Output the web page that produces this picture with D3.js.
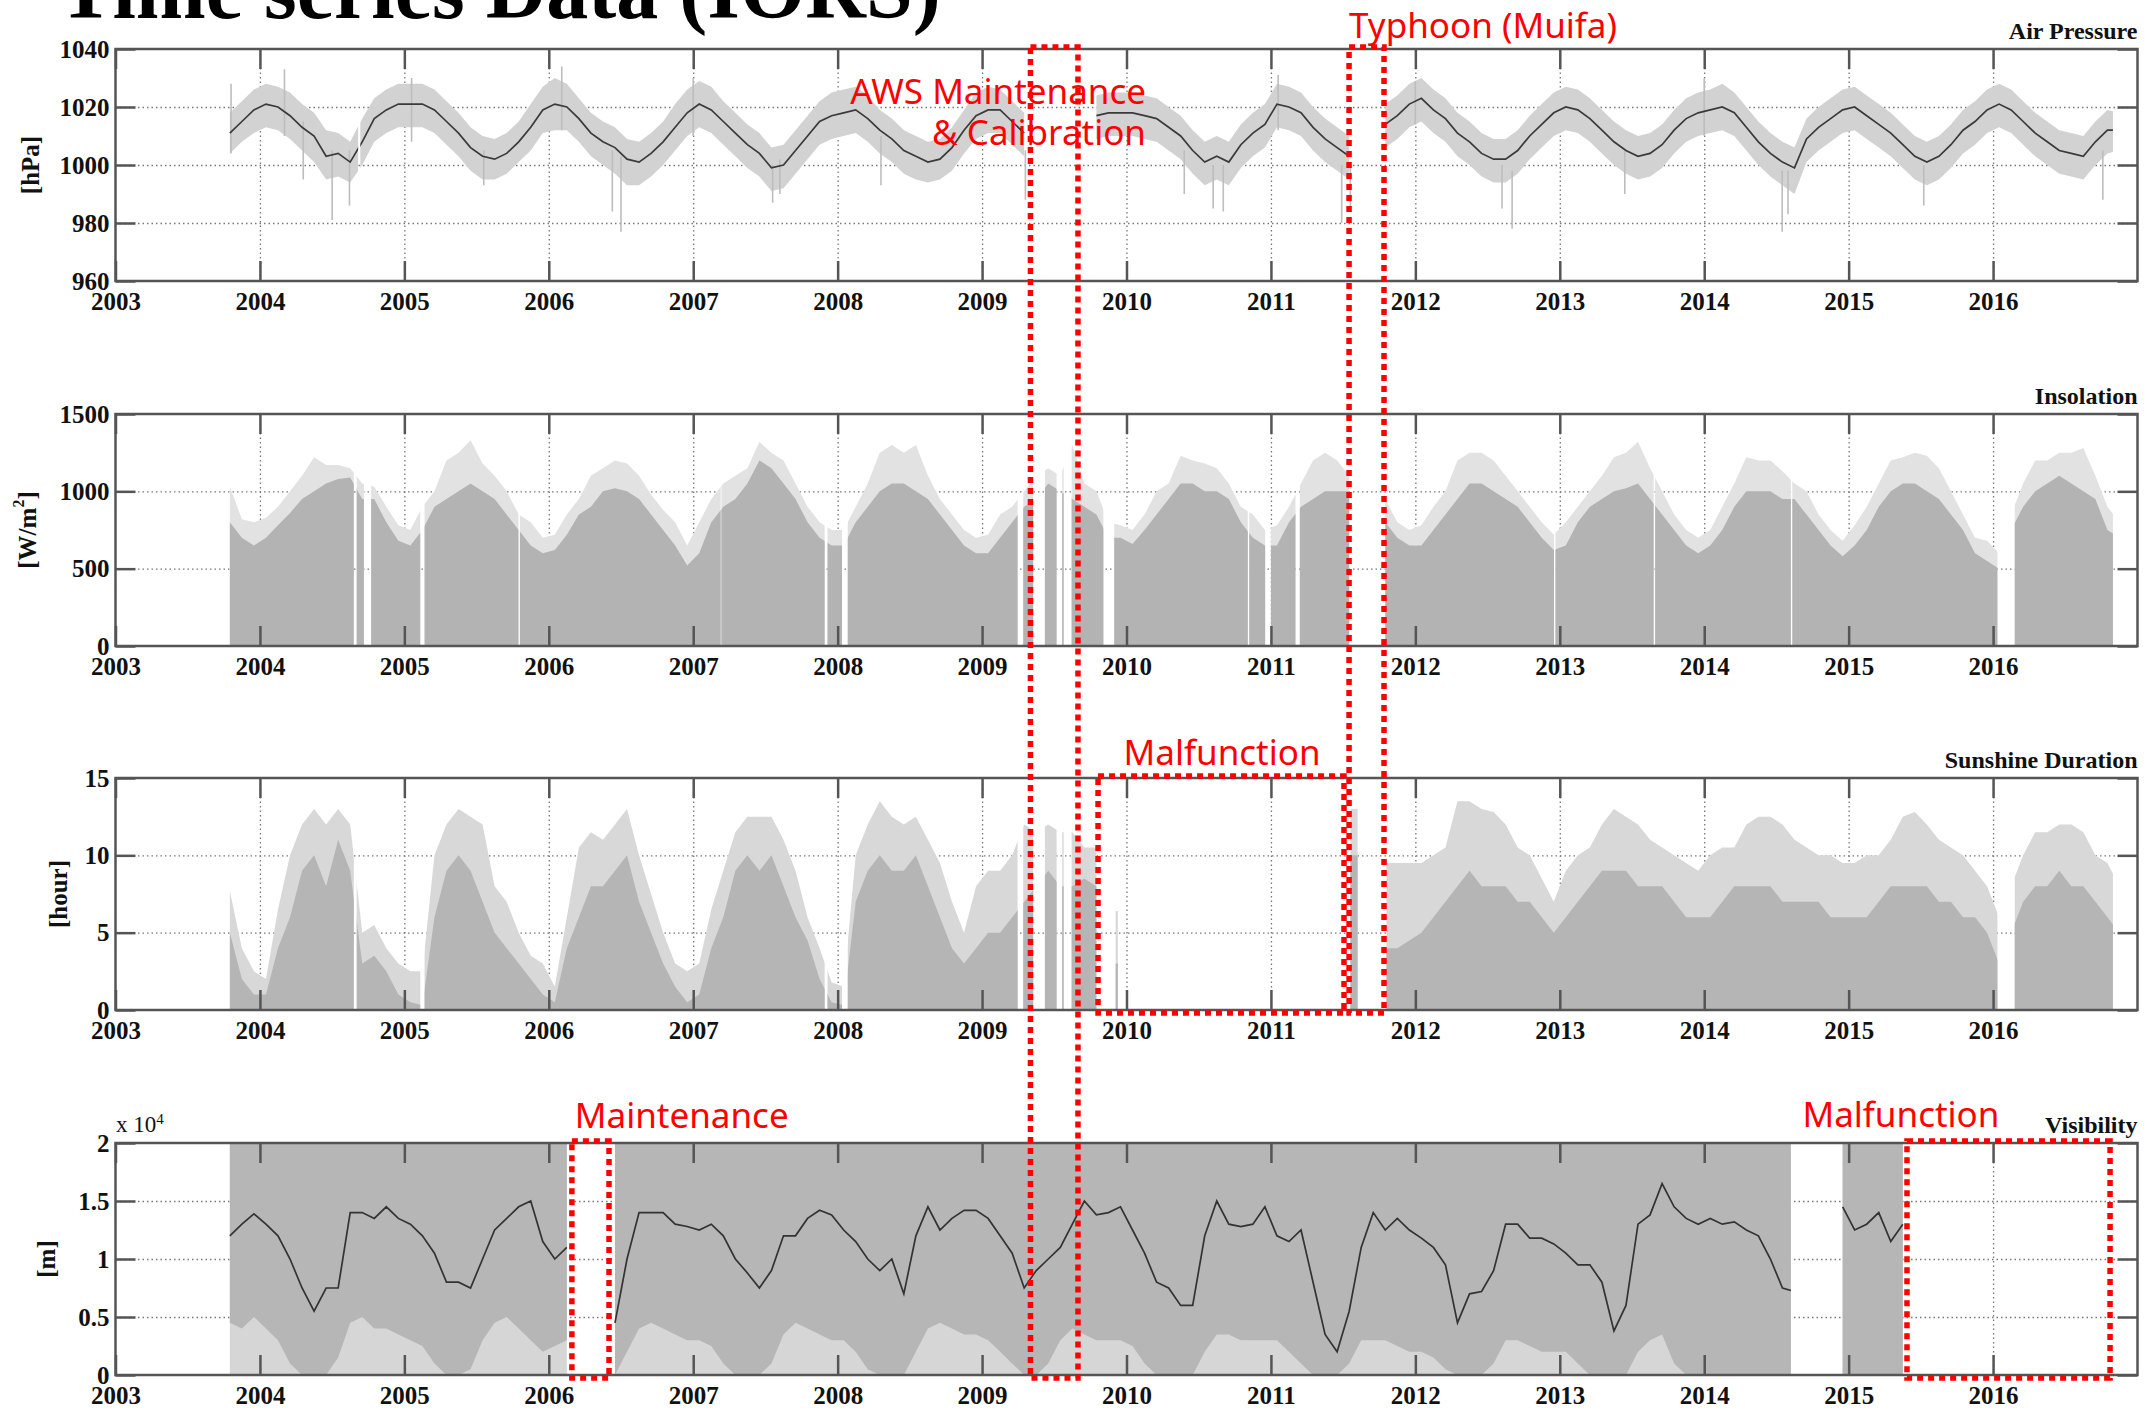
<!DOCTYPE html>
<html>
<head>
<meta charset="utf-8">
<script src="https://cdn.jsdelivr.net/npm/d3@7"></script>
<style>
  body { margin: 0; background: #fff; }
  svg { display: block; }
</style>
</head>
<body>
<svg id="chart" width="2154" height="1410"></svg>
<script>
// monthly values, Oct 2003 .. Nov 2016 (one row per year)
const years = d3.range(2003, 2017);

// Air pressure [hPa]: running mean, and the spread of the daily values
const pressureMean = [
  1011, 1015, 1019,
  1021, 1020, 1017, 1013, 1010, 1003, 1004, 1001, 1008, 1016, 1019, 1021,
  1021, 1021, 1019, 1015, 1011, 1006, 1003, 1002, 1004, 1008, 1013, 1019,
  1021, 1020, 1016, 1011, 1008, 1006, 1002, 1001, 1004, 1008, 1013, 1018,
  1021, 1019, 1015, 1011, 1007, 1004, 999, 1000, 1005, 1010, 1015, 1017,
  1018, 1019, 1016, 1012, 1009, 1005, 1003, 1001, 1002, 1006, 1012, 1017,
  1019, 1019, 1015, 1011, null, null, null, null, null, 1017, 1018, 1018,
  1018, 1017, 1016, 1013, 1010, 1005, 1001, 1003, 1001, 1007, 1011, 1014,
  1021, 1020, 1018, 1013, 1009, 1006, 1003, null, null, 1014, 1017, 1021,
  1023, 1019, 1016, 1011, 1008, 1004, 1002, 1002, 1005, 1010, 1014, 1018,
  1020, 1019, 1016, 1012, 1008, 1005, 1003, 1004, 1007, 1012, 1016, 1018,
  1019, 1020, 1018, 1013, 1008, 1004, 1001, 999, 1009, 1013, 1016, 1019,
  1020, 1017, 1014, 1011, 1007, 1003, 1001, 1003, 1007, 1012, 1015, 1019,
  1021, 1019, 1015, 1011, 1008, 1005, 1004, 1003, 1008, 1012, 1012
];
const pressureHi = [
  1018, 1022, 1026,
  1028, 1027, 1025, 1021, 1018, 1012, 1011, 1008, 1016, 1023, 1026, 1028,
  1028, 1028, 1026, 1022, 1018, 1013, 1010, 1009, 1011, 1015, 1021, 1027,
  1030, 1028, 1023, 1018, 1015, 1013, 1009, 1008, 1011, 1015, 1021, 1026,
  1029, 1027, 1022, 1018, 1014, 1011, 1006, 1007, 1012, 1017, 1022, 1025,
  1026, 1027, 1024, 1019, 1016, 1012, 1010, 1008, 1009, 1013, 1019, 1025,
  1027, 1026, 1022, 1018, null, null, null, null, null, 1024, 1025, 1025,
  1025, 1024, 1023, 1020, 1017, 1012, 1008, 1010, 1008, 1014, 1018, 1021,
  1028, 1027, 1025, 1020, 1016, 1013, 1010, null, null, 1021, 1024, 1028,
  1030, 1026, 1023, 1018, 1015, 1011, 1009, 1009, 1012, 1017, 1021, 1025,
  1027, 1026, 1023, 1019, 1015, 1012, 1010, 1011, 1014, 1019, 1023, 1025,
  1026, 1028, 1025, 1020, 1015, 1011, 1008, 1006, 1016, 1020, 1023, 1026,
  1027, 1024, 1021, 1018, 1014, 1010, 1008, 1010, 1014, 1019, 1022, 1026,
  1028, 1026, 1022, 1018, 1015, 1012, 1011, 1010, 1015, 1019, 1018
];
const pressureLo = [
  1004, 1008, 1011,
  1013, 1012, 1009, 1005, 1001, 995, 996, 994, 1000, 1008, 1011, 1013,
  1013, 1013, 1011, 1007, 1003, 998, 995, 995, 997, 1001, 1005, 1011,
  1012, 1012, 1008, 1003, 1000, 997, 993, 993, 996, 1000, 1005, 1010,
  1013, 1011, 1007, 1003, 999, 996, 991, 992, 997, 1002, 1007, 1009,
  1010, 1011, 1008, 1004, 1001, 997, 995, 994, 995, 998, 1004, 1009,
  1011, 1011, 1007, 1003, null, null, null, null, null, 1009, 1010, 1010,
  1010, 1009, 1008, 1005, 1002, 997, 993, 995, 993, 999, 1003, 1006,
  1013, 1012, 1010, 1005, 1001, 998, 995, null, null, 1006, 1009, 1013,
  1015, 1011, 1008, 1003, 1000, 996, 994, 994, 997, 1002, 1006, 1010,
  1012, 1011, 1008, 1004, 1000, 997, 995, 996, 999, 1004, 1008, 1010,
  1011, 1012, 1010, 1005, 1000, 996, 993, 990, 1001, 1005, 1008, 1011,
  1012, 1009, 1006, 1003, 999, 995, 993, 995, 999, 1004, 1007, 1011,
  1013, 1011, 1007, 1003, 1000, 997, 996, 995, 1000, 1004, 1005
];
// single days that stick out of the band: [year, low, high]
const pressureSpikes = [
  [2003.80, 1004, 1028], [2004.17, 1010, 1033], [2004.30, 995, 1015], [2004.50, 981, 1005],
  [2004.62, 986, 1005], [2005.05, 1008, 1030], [2005.55, 993, 1005], [2006.09, 1012, 1034],
  [2006.44, 984, 1005], [2006.50, 977, 1003], [2007.00, 1010, 1030], [2007.55, 987, 1000],
  [2007.60, 990, 1002], [2008.30, 993, 1010], [2009.30, 988, 1005], [2009.45, 996, 1006],
  [2009.55, 999, 1005], [2009.62, 1000, 1008], [2010.40, 990, 1005], [2010.60, 985, 1000],
  [2010.67, 984, 1000], [2011.05, 1012, 1031], [2011.49, 980, 1000], [2011.55, 985, 1000],
  [2012.00, 1014, 1029], [2012.60, 985, 1000], [2012.67, 978, 998], [2013.45, 990, 1005],
  [2014.00, 1010, 1030], [2014.54, 977, 998], [2014.58, 983, 998], [2015.52, 986, 1000],
  [2016.76, 988, 1005]
];
const pressureGaps = [[2004.68, 2004.695], [2009.34, 2009.75], [2011.57, 2011.775]];

// Insolation [W/m2]: level of the dense bars, and the highest days
const insolTop = [
  800, 700, 650,
  700, 780, 860, 950, 1000, 1050, 1080, 1090, 950, 950, 800, 680,
  650, 750, 900, 950, 1000, 1050, 1000, 950, 850, 750, 650, 600,
  620, 720, 850, 900, 1000, 1020, 1000, 950, 850, 750, 650, 520,
  600, 800, 900, 950, 1050, 1200, 1150, 1050, 950, 800, 700, 650,
  650, 800, 900, 1000, 1050, 1050, 1000, 950, 850, 750, 650, 600,
  600, 700, 800, 900, 950, 1050, 1000, 950, 900, 850, 700, 700,
  660, 750, 850, 950, 1050, 1050, 1000, 1000, 950, 800, 700, 650,
  650, 800, 900, 950, 1000, 1000, 1000, null, null, 800, 700, 650,
  650, 750, 850, 950, 1050, 1050, 1000, 950, 900, 800, 700, 620,
  650, 800, 900, 950, 1000, 1020, 1050, 950, 850, 750, 650, 600,
  650, 750, 900, 1000, 1000, 1000, 950, 950, 850, 750, 650, 580,
  650, 750, 900, 1000, 1050, 1050, 1000, 950, 850, 750, 600, 550,
  500, 750, 900, 1000, 1050, 1100, 1050, 1000, 950, 750, 700
];
const insolMax = [
  1030, 820, 800,
  830, 900, 1000, 1100, 1220, 1170, 1170, 1150, 1050, 1030, 900, 780,
  750, 900, 1000, 1200, 1250, 1330, 1180, 1100, 1000, 850, 800, 700,
  720, 850, 950, 1100, 1150, 1200, 1180, 1100, 980, 880, 800, 650,
  800, 950, 1050, 1100, 1150, 1320, 1250, 1200, 1050, 900, 800, 750,
  750, 900, 1050, 1250, 1300, 1250, 1300, 1100, 950, 850, 750, 700,
  720, 850, 900, 1000, 1100, 1150, 1100, 1300, 1050, 1000, 800, 780,
  750, 850, 1000, 1050, 1230, 1200, 1180, 1150, 1050, 900, 850, 750,
  780, 900, 1050, 1200, 1250, 1200, 1100, null, null, 950, 800, 750,
  780, 900, 1000, 1200, 1250, 1250, 1200, 1100, 1000, 900, 800, 720,
  800, 900, 1000, 1100, 1220, 1250, 1320, 1150, 1000, 850, 750, 700,
  750, 900, 1050, 1220, 1200, 1200, 1130, 1050, 1000, 850, 750, 680,
  780, 900, 1050, 1200, 1220, 1250, 1230, 1150, 1000, 850, 700, 680,
  600, 850, 1050, 1200, 1200, 1250, 1250, 1280, 1100, 900, 800
];
const insolGaps = [
  [2004.65, 2004.67], [2004.72, 2004.77], [2005.11, 2005.14], [2005.79, 2005.80],
  [2007.19, 2007.195], [2007.91, 2007.93], [2008.03, 2008.07], [2009.246, 2009.285],
  [2009.354, 2009.435], [2009.516, 2009.555], [2009.565, 2009.62], [2009.84, 2009.915],
  [2010.84, 2010.85], [2010.96, 2011.0], [2011.17, 2011.20], [2011.58, 2011.76],
  [2012.96, 2012.97], [2013.65, 2013.66], [2014.60, 2014.61], [2016.03, 2016.15]
];

// Sunshine duration [hour]: dense level and highest days
const sunTop = [
  5, 2, 1,
  1, 4, 6, 9, 10, 8, 11, 9, 3, 3.5, 2.5, 1,
  0.5, 0.3, 6, 9, 10, 9, 7, 5, 4, 3, 2, 1,
  0.5, 4, 6, 8, 8, 9, 10, 7, 5, 3, 1.5, 0.5,
  1, 4, 6, 9, 10, 9, 10, 8, 6, 4.5, 2, 0.5,
  0.3, 7, 9, 10, 9, 9, 10, 8, 6, 4, 3, 4,
  5, 5, 6, 7, 8, 9, 8, 8, 8.5, 8, null, null,
  null, null, null, null, null, null, null, null, null, null, null, null,
  null, null, null, null, null, null, null, null, null, 4, 4, 4.5,
  5, 6, 7, 8, 9, 8, 8, 8, 7, 7, 6, 5,
  6, 7, 8, 9, 9, 9, 8, 8, 8, 7, 6, 6,
  6, 7, 8, 8, 8, 8, 7, 7, 7, 7, 6, 6,
  6, 6, 7, 8, 8, 8, 8, 7, 7, 6, 6, 5,
  3, 5, 7, 8, 8, 9, 8, 8, 7, 6, 5
];
const sunMax = [
  7.7, 4, 2.5,
  2, 6.5, 10, 12, 13, 12, 13, 12, 5, 5.5, 4, 3,
  2.5, 2.5, 10, 12, 13, 12.5, 12, 8, 7, 5, 3.5, 3,
  1.5, 6, 10.5, 11.5, 11, 12, 13, 10, 7.5, 5, 3, 2.5,
  3, 6.5, 9, 11.5, 12.5, 12.5, 12.5, 11, 9, 6, 4, 1.8,
  1.5, 10, 12, 13.5, 12.5, 12, 12.5, 11, 9.5, 7, 5, 8,
  9, 9, 10, 12, 11.5, 12, 11.5, 11.5, 10.5, 10.5, null, null,
  null, null, null, null, null, null, null, null, null, null, null, null,
  null, null, null, null, null, null, null, null, null, 9.5, 9.5, 9.5,
  9.5, 10, 10.5, 13.5, 13.5, 13, 12.8, 12, 10.5, 10, 8.5, 7,
  9, 10, 10.5, 12, 13, 12.5, 12, 11, 10.5, 10, 9.5, 9,
  10, 10.5, 10.5, 12, 12.5, 12.5, 12, 11, 10.5, 10, 10, 9.5,
  9.5, 10, 10, 11, 12.5, 12.8, 12, 11, 10.5, 10, 9, 8,
  6, 8, 10, 11.5, 11.5, 12, 12, 11.5, 10, 9.5, 8
];
// short stretches inside the malfunction period: [from, to, dense, max]
const sunExtra = [[2009.925, 2009.94, 3, 6.4], [2011.55, 2011.60, 10, 13]];
const sunGaps = [
  [2004.65, 2004.67], [2005.11, 2005.14], [2007.91, 2007.93], [2008.03, 2008.07],
  [2009.246, 2009.285], [2009.354, 2009.435], [2009.516, 2009.555], [2009.565, 2009.62],
  [2009.84, 2011.80], [2016.03, 2016.15]
];

// Visibility [x 10^4 m]: running mean, and the lower edge of the dense band
const visMean = [
  1.2, 1.3, 1.39,
  1.3, 1.2, 1.0, 0.75, 0.55, 0.75, 0.75, 1.4, 1.4, 1.35, 1.45, 1.35,
  1.3, 1.2, 1.05, 0.8, 0.8, 0.75, 1.0, 1.25, 1.35, 1.45, 1.5, 1.15,
  1.0, 1.1, null, null, null, 0.45, 1.0, 1.4, 1.4, 1.4, 1.3, 1.28,
  1.25, 1.3, 1.2, 1.0, 0.88, 0.75, 0.9, 1.2, 1.2, 1.35, 1.42, 1.38,
  1.25, 1.15, 1.0, 0.9, 1.0, 0.7, 1.2, 1.45, 1.25, 1.35, 1.42, 1.42,
  1.35, 1.2, 1.05, 0.75, 0.9, 1.0, 1.1, 1.3, 1.5, 1.38, 1.4, 1.45,
  1.25, 1.05, 0.8, 0.75, 0.6, 0.6, 1.2, 1.5, 1.3, 1.28, 1.3, 1.45,
  1.2, 1.15, 1.25, 0.8, 0.35, 0.2, 0.55, 1.1, 1.4, 1.25, 1.35, 1.25,
  1.18, 1.1, 0.95, 0.45, 0.7, 0.72, 0.9, 1.3, 1.3, 1.18, 1.18, 1.13,
  1.05, 0.95, 0.95, 0.8, 0.38, 0.6, 1.3, 1.38, 1.65, 1.45, 1.35, 1.3,
  1.35, 1.3, 1.32, 1.25, 1.2, 1.0, 0.75, 0.72, null, null, null, 1.45,
  1.25, 1.3, 1.4, 1.15, 1.3, null, null, null, null, null, null, null,
  null, null, null, null, null, null, null, null, null, null, null
];
const visLow = [
  0.45, 0.4, 0.5,
  0.4, 0.3, 0.1, 0, 0, 0, 0.15, 0.45, 0.5, 0.4, 0.4, 0.35,
  0.3, 0.25, 0.1, 0, 0, 0.05, 0.3, 0.45, 0.5, 0.4, 0.3, 0.2,
  0.25, 0.3, null, null, null, 0, 0.2, 0.4, 0.45, 0.4, 0.35, 0.3,
  0.3, 0.25, 0.1, 0, 0, 0, 0.1, 0.35, 0.45, 0.4, 0.35, 0.3,
  0.3, 0.2, 0.05, 0, 0, 0, 0.2, 0.4, 0.45, 0.4, 0.35, 0.35,
  0.3, 0.2, 0.1, 0, 0, 0.1, 0.3, 0.4, 0.35, 0.3, 0.3, 0.3,
  0.25, 0.1, 0, 0, 0, 0, 0.2, 0.35, 0.35, 0.3, 0.3, 0.3,
  0.3, 0.2, 0.1, 0, 0, 0, 0.1, 0.3, 0.3, 0.3, 0.25, 0.2,
  0.2, 0.15, 0.05, 0, 0, 0, 0.1, 0.3, 0.3, 0.25, 0.2, 0.2,
  0.2, 0.1, 0, 0, 0, 0, 0.2, 0.3, 0.35, 0.1, 0, 0,
  0, 0, 0, 0, 0, 0, 0, 0, null, null, null, 0,
  0, 0, 0, 0, 0, null, null, null, null, null, null, null,
  null, null, null, null, null, null, null, null, null, null, null
];
const visGaps = [[2006.16, 2006.43], [2014.60, 2014.91]];

// red annotations
const boxes = [
  { x0: 2009.335, x1: 2009.664, from: 0, to: 3 },
  { x0: 2011.541, x1: 2011.783, from: 0, to: 2 },
  { x0: 2009.803, x1: 2011.506, from: 2, to: 2 },
  { x0: 2006.16, x1: 2006.417, from: 3, to: 3 },
  { x0: 2015.404, x1: 2016.81, from: 3, to: 3 }
];
const notes = [
  { text: 'AWS Maintenance', x: 2010.135, y: 104, anchor: 'end' },
  { text: '& Calibration', x: 2010.135, y: 145, anchor: 'end' },
  { text: 'Typhoon (Muifa)', x: 2011.541, y: 38, anchor: 'start' },
  { text: 'Malfunction', x: 2009.98, y: 765, anchor: 'start' },
  { text: 'Maintenance', x: 2006.18, y: 1128, anchor: 'start' },
  { text: 'Malfunction', x: 2014.68, y: 1127, anchor: 'start' }
];

const serif = '"Liberation Serif", "Times New Roman", serif';
const svg = d3.select('#chart');
const x = d3.scaleLinear().domain([2003, 2017]).range([115.5, 2137.5]);
const plotH = 232;
const panelTops = [49, 414, 778, 1143];
const dataStart = 2003.77, dataEnd = 2016.83;

// Oct 2003 is index 0, each point sits mid-month
const monthTime = i => 2003 + (9 + i + 0.5) / 12;
const zip = (...arrs) => arrs[0].map((v, i) => ({ t: monthTime(i), a: v, b: arrs[1] ? arrs[1][i] : null }));

svg.append('text')
  .attr('x', 58).attr('y', 18)
  .attr('font-family', serif).attr('font-weight', 'bold').attr('font-size', 84)
  .text('Time series Data (IORS)');

function styleAxis(g) {
  g.select('.domain').remove();
  g.selectAll('.tick line').attr('stroke', '#555').attr('stroke-width', 2.5);
  g.selectAll('text').attr('font-family', serif).attr('font-weight', 'bold')
    .attr('font-size', 25).attr('fill', '#111');
}

function makePanel(i, yDomain, yTicks, yFormat, title, unitX, gaps, end) {
  const top = panelTops[i], bottom = top + plotH;
  const y = d3.scaleLinear().domain(yDomain).range([bottom, top]);
  const g = svg.append('g');

  // dotted grid
  g.append('g').attr('transform', `translate(0,${bottom})`)
    .call(d3.axisBottom(x).tickValues(years.slice(1)).tickSize(-plotH).tickFormat(''))
    .call(a => { a.select('.domain').remove(); a.selectAll('line').attr('stroke', '#777').attr('stroke-width', 1.3).attr('stroke-dasharray', '1.5,3'); });
  g.append('g').attr('transform', `translate(${x(2003)},0)`)
    .call(d3.axisLeft(y).tickValues(yTicks.slice(1, -1)).tickSize(-(x(2017) - x(2003))).tickFormat(''))
    .call(a => { a.select('.domain').remove(); a.selectAll('line').attr('stroke', '#777').attr('stroke-width', 1.3).attr('stroke-dasharray', '1.5,3'); });

  // clip out the missing stretches
  const keep = [];
  let s = dataStart;
  gaps.slice().sort((p, q) => p[0] - q[0]).forEach(gp => {
    if (gp[0] > s) keep.push([s, gp[0]]);
    s = Math.max(s, gp[1]);
  });
  if (end > s) keep.push([s, end]);
  const clipId = 'clip' + i;
  svg.append('clipPath').attr('id', clipId)
    .selectAll('rect').data(keep).enter().append('rect')
    .attr('x', d => x(d[0])).attr('width', d => x(d[1]) - x(d[0]))
    .attr('y', top).attr('height', plotH);
  const data = g.append('g').attr('clip-path', `url(#${clipId})`);
  const over = g.append('g');

  // frame, inner ticks and labels
  const frame = g.append('g');
  frame.append('rect').attr('x', x(2003)).attr('y', top)
    .attr('width', x(2017) - x(2003)).attr('height', plotH)
    .attr('fill', 'none').attr('stroke', '#555').attr('stroke-width', 2.5);
  frame.append('g').attr('transform', `translate(0,${bottom})`)
    .call(d3.axisBottom(x).tickValues(years).tickSize(-20).tickSizeOuter(0).tickPadding(11).tickFormat(d3.format('d')))
    .call(styleAxis);
  frame.append('g').attr('transform', `translate(0,${top})`)
    .call(d3.axisTop(x).tickValues(years).tickSize(-20).tickSizeOuter(0).tickFormat(''))
    .call(styleAxis);
  frame.append('g').attr('transform', `translate(${x(2003)},0)`)
    .call(d3.axisLeft(y).tickValues(yTicks).tickSize(-20).tickSizeOuter(0).tickPadding(6).tickFormat(yFormat))
    .call(styleAxis);
  frame.append('g').attr('transform', `translate(${x(2017)},0)`)
    .call(d3.axisRight(y).tickValues(yTicks).tickSize(-20).tickSizeOuter(0).tickFormat(''))
    .call(styleAxis);

  svg.append('text').attr('x', x(2017)).attr('y', top - 10).attr('text-anchor', 'end')
    .attr('font-family', serif).attr('font-weight', 'bold').attr('font-size', 24).attr('fill', '#111')
    .text(title);

  const unit = svg.append('text')
    .attr('transform', `translate(${unitX},${(top + bottom) / 2}) rotate(-90)`)
    .attr('text-anchor', 'middle').attr('dominant-baseline', 'central')
    .attr('font-family', serif).attr('font-weight', 'bold').attr('font-size', 25).attr('fill', '#111');

  return { y, data, over, unit, top, bottom };
}

// ---- Air pressure
const p1 = makePanel(0, [960, 1040], [960, 980, 1000, 1020, 1040], d3.format('d'), 'Air Pressure', 30, pressureGaps, dataEnd);
p1.unit.text('[hPa]');
const pBand = pressureMean.map((v, i) => ({ t: monthTime(i), lo: pressureLo[i], hi: pressureHi[i] }));
p1.data.append('path').datum(pBand)
  .attr('fill', '#d2d2d2')
  .attr('d', d3.area().defined(d => d.lo != null).x(d => x(d.t)).y0(d => p1.y(d.lo)).y1(d => p1.y(d.hi)));
p1.data.selectAll('.spike').data(pressureSpikes).enter().append('line')
  .attr('x1', d => x(d[0])).attr('x2', d => x(d[0]))
  .attr('y1', d => p1.y(d[1])).attr('y2', d => p1.y(d[2]))
  .attr('stroke', '#bdbdbd').attr('stroke-width', 1.6);
p1.data.append('path').datum(zip(pressureMean))
  .attr('fill', 'none').attr('stroke', '#3a3a3a').attr('stroke-width', 1.7)
  .attr('d', d3.line().defined(d => d.a != null).x(d => x(d.t)).y(d => p1.y(d.a)));

// ---- Insolation
const p2 = makePanel(1, [0, 1500], [0, 500, 1000, 1500], d3.format('d'), 'Insolation', 27, insolGaps, dataEnd);
p2.unit.append('tspan').text('[W/m');
p2.unit.append('tspan').attr('baseline-shift', 'super').attr('font-size', 16).text('2');
p2.unit.append('tspan').text(']');
const ins = zip(insolMax, insolTop);
p2.data.append('path').datum(ins)
  .attr('fill', '#e2e2e2')
  .attr('d', d3.area().defined(d => d.a != null).x(d => x(d.t)).y0(p2.y(0)).y1(d => p2.y(d.a)));
p2.data.append('path').datum(ins)
  .attr('fill', '#b3b3b3')
  .attr('d', d3.area().defined(d => d.b != null).x(d => x(d.t)).y0(p2.y(0)).y1(d => p2.y(d.b)));

// ---- Sunshine duration
const p3 = makePanel(2, [0, 15], [0, 5, 10, 15], d3.format('d'), 'Sunshine Duration', 58, sunGaps, dataEnd);
p3.unit.text('[hour]');
const sun = zip(sunMax, sunTop);
p3.data.append('path').datum(sun)
  .attr('fill', '#d8d8d8')
  .attr('d', d3.area().defined(d => d.a != null).x(d => x(d.t)).y0(p3.y(0)).y1(d => p3.y(d.a)));
p3.data.append('path').datum(sun)
  .attr('fill', '#b5b5b5')
  .attr('d', d3.area().defined(d => d.b != null).x(d => x(d.t)).y0(p3.y(0)).y1(d => p3.y(d.b)));
sunExtra.forEach(e => {
  p3.over.append('rect').attr('x', x(e[0])).attr('width', x(e[1]) - x(e[0]))
    .attr('y', p3.y(e[3])).attr('height', p3.y(0) - p3.y(e[3])).attr('fill', '#d8d8d8');
  p3.over.append('rect').attr('x', x(e[0])).attr('width', x(e[1]) - x(e[0]))
    .attr('y', p3.y(e[2])).attr('height', p3.y(0) - p3.y(e[2])).attr('fill', '#b5b5b5');
});

// ---- Visibility
const p4 = makePanel(3, [0, 2], [0, 0.5, 1, 1.5, 2], d => String(d), 'Visibility', 46, visGaps, 2015.40);
p4.unit.text('[m]');
const vis = zip(visMean, visLow);
p4.data.append('path').datum(vis)
  .attr('fill', '#d6d6d6')
  .attr('d', d3.area().defined(d => d.b != null).x(d => x(d.t)).y0(p4.y(0)).y1(p4.y(2)));
p4.data.append('path').datum(vis)
  .attr('fill', '#b6b6b6')
  .attr('d', d3.area().defined(d => d.b != null).x(d => x(d.t)).y0(d => p4.y(d.b)).y1(p4.y(2)));
p4.data.append('path').datum(vis)
  .attr('fill', 'none').attr('stroke', '#333').attr('stroke-width', 1.7)
  .attr('d', d3.line().defined(d => d.a != null).x(d => x(d.t)).y(d => p4.y(d.a)));
const exp = svg.append('text').attr('x', 116).attr('y', 1132)
  .attr('font-family', serif).attr('font-size', 23).attr('fill', '#111');
exp.append('tspan').text('x 10');
exp.append('tspan').attr('baseline-shift', 'super').attr('font-size', 15).text('4');

// ---- red annotation boxes and labels
svg.append('g').selectAll('rect').data(boxes).enter().append('rect')
  .attr('x', d => x(d.x0)).attr('width', d => x(d.x1) - x(d.x0))
  .attr('y', d => panelTops[d.from] - 2)
  .attr('height', d => panelTops[d.to] + plotH + 3 - (panelTops[d.from] - 2))
  .attr('fill', 'none').attr('stroke', '#ff0000').attr('stroke-width', 5.5)
  .attr('stroke-dasharray', '6,5');
svg.append('g').selectAll('text').data(notes).enter().append('text')
  .attr('x', d => x(d.x)).attr('y', d => d.y).attr('text-anchor', d => d.anchor)
  .attr('font-family', '"Noto Sans", sans-serif').attr('font-size', 35).attr('fill', '#ff0000')
  .text(d => d.text);
</script>
</body>
</html>
